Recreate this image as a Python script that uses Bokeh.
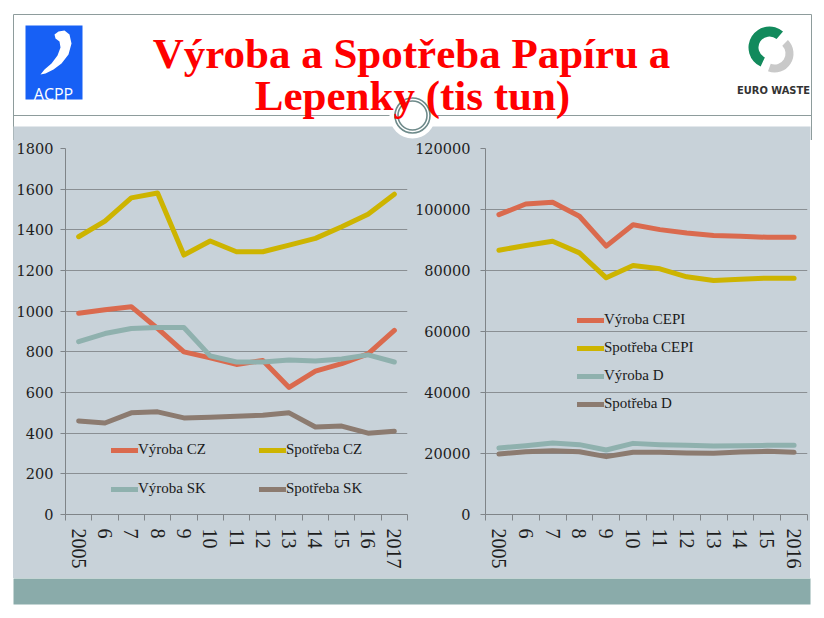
from bokeh.plotting import figure
from bokeh.layouts import column, row
from bokeh.models import (Range1d, FixedTicker, SingleIntervalTicker, Legend, LegendItem, Spacer,
                          BasicTickFormatter)
from bokeh.core.properties import value
from bokeh.embed import file_html
from bokeh.resources import INLINE

# ---------------- data ----------------
years_left = [2005, 2006, 2007, 2008, 2009, 2010, 2011, 2012, 2013, 2014, 2015, 2016, 2017]
labels_left = ["2005", "6", "7", "8", "9", "10", "11", "12", "13", "14", "15", "16", "2017"]
vyroba_cz = [990, 1007, 1022, 915, 800, 770, 738, 757, 625, 705, 742, 790, 905]
spotreba_cz = [1366, 1443, 1557, 1581, 1276, 1345, 1292, 1292, 1325, 1358, 1415, 1477, 1575]
vyroba_sk = [850, 890, 915, 920, 920, 780, 750, 750, 760, 755, 765, 785, 750]
spotreba_sk = [460, 450, 500, 505, 475, 478, 483, 488, 500, 430, 435, 400, 410]

years_right = [2005, 2006, 2007, 2008, 2009, 2010, 2011, 2012, 2013, 2014, 2015, 2016]
labels_right = ["2005", "6", "7", "8", "9", "10", "11", "12", "13", "14", "15", "2016"]
vyroba_cepi = [98300, 101800, 102350, 97800, 88000, 95000, 93400, 92300, 91450, 91230, 90900, 90900]
spotreba_cepi = [86650, 88180, 89600, 85770, 77600, 81650, 80550, 77930, 76750, 77170, 77500, 77500]
vyroba_d = [21800, 22560, 23440, 22900, 21150, 23320, 22900, 22670, 22450, 22560, 22670, 22670]
spotreba_d = [19830, 20600, 20930, 20600, 18970, 20380, 20380, 20160, 20050, 20490, 20710, 20380]

title_lines = ["Výroba a Spotřeba Papíru a", "Lepenky (tis tun)"]

# ---------------- style ----------------
BG = "#C8D2D9"
TEAL = "#8AABAA"
GRID = "#8A8F93"
C_RED = "#DA6A4E"
C_YEL = "#CDB400"
C_TEAL = "#8FB1AE"
C_BRN = "#8C7B70"
SERIF = "Liberation Serif"
NUMF = "DejaVu Serif"

# ---------------- title figure ----------------
t = figure(width=816, height=140, x_range=Range1d(0, 816), y_range=Range1d(140, 0),
           min_border=0, toolbar_location=None, output_backend="svg",
           x_axis_location=None, y_axis_location=None)
t.grid.visible = False
t.outline_line_color = None
t.background_fill_color = "white"
t.border_fill_color = "white"

BORDER = "#8E9C9C"
t.line(x=[13, 811], y=[14, 14], line_color=BORDER, line_width=1)
t.line(x=[13, 13], y=[14, 140], line_color=BORDER, line_width=1)
t.line(x=[811, 811], y=[14, 140], line_color=BORDER, line_width=1)
t.line(x=[13, 811], y=[115, 115], line_color=BORDER, line_width=1)
t.quad(left=[13], right=[810], top=[126], bottom=[141], fill_color=BG, line_color=None)
t.scatter(x=[412], y=[115], size=46, fill_color="white", line_color=None)
t.scatter(x=[412], y=[115], size=35, fill_color=None, line_color="#6E8A8A", line_width=1.6)
t.scatter(x=[412], y=[115], size=29, fill_color=None, line_color="#6E8A8A", line_width=1.6)

t.text(x=[411, 412], y=[53, 95], text=title_lines, text_font=value(SERIF),
       text_font_style="bold", text_font_size="43px", text_color="#FF0000",
       text_align="center", text_baseline="alphabetic")

# ACPP logo
t.quad(left=[25], right=[82], top=[25], bottom=[99], fill_color="#1760F5", line_color=None)
t.patch(x=[58, 64, 69, 71, 68, 61, 53, 45, 40, 44, 51, 57, 60, 59, 55, 54],
        y=[31, 30, 34, 43, 54, 63, 69, 73, 74, 69, 63, 55, 47, 41, 38, 34],
        fill_color="white", line_color=None)
t.text(x=[53], y=[93], text=["ACPP"], text_font=value("Open Sans"), text_font_size="16px",
       text_color="white", text_align="center", text_baseline="alphabetic")

# EURO WASTE logo
t.annular_wedge(x=[774], y=[53], inner_radius=11, outer_radius=19,
                start_angle=-110, end_angle=45, start_angle_units="deg", end_angle_units="deg",
                fill_color="#C9C9C9", line_color=None)
t.annular_wedge(x=[769], y=[47], inner_radius=11, outer_radius=21,
                start_angle=50, end_angle=245, start_angle_units="deg", end_angle_units="deg",
                fill_color="#128A5C", line_color=None)
t.text(x=[773], y=[90], text=["EURO WASTE"], text_font=value("DejaVu Sans Condensed"),
       text_font_style="bold", text_font_size="11px", text_color="#333333",
       text_align="center", text_baseline="alphabetic")


# ---------------- chart helper ----------------
def make_chart(width, years, labels, ymax, yint, mbl, mbt, mbb, standoff):
    p = figure(width=width, height=438, x_range=Range1d(years[0] - 0.5, years[-1] + 0.5),
               y_range=Range1d(0, ymax), toolbar_location=None, output_backend="svg",
               min_border_left=mbl, min_border_right=3, min_border_top=mbt, min_border_bottom=mbb)
    p.background_fill_color = BG
    p.border_fill_color = BG
    p.outline_line_color = None
    p.xgrid.visible = False
    p.ygrid.grid_line_color = GRID
    p.ygrid.grid_line_width = 1
    p.yaxis.ticker = SingleIntervalTicker(interval=yint)
    p.ygrid.ticker = SingleIntervalTicker(interval=yint)
    p.yaxis.formatter = BasicTickFormatter(use_scientific=False)
    p.xaxis.ticker = FixedTicker(ticks=years, minor_ticks=[y - 0.5 for y in years] + [years[-1] + 0.5])
    p.xaxis.major_label_overrides = {y: l for y, l in zip(years, labels)}
    p.xaxis.major_label_orientation = "vertical"
    for ax in (p.xaxis, p.yaxis):
        ax.axis_line_color = "#7F8488"
        ax.major_tick_line_color = "#7F8488"
        ax.minor_tick_line_color = "#7F8488"
        ax.major_tick_in = 0
        ax.minor_tick_in = 0
        ax.major_label_text_color = "#1E1E1E"
    p.xaxis.major_tick_line_color = None
    p.xaxis.major_tick_out = 6
    p.xaxis.minor_tick_out = 6
    p.xaxis.major_label_standoff = 8
    p.xaxis.major_label_text_font = SERIF
    p.xaxis.major_label_text_font_size = "20px"
    p.yaxis.minor_tick_line_color = None
    p.yaxis.major_tick_out = 5
    p.yaxis.major_label_standoff = standoff
    p.yaxis.major_label_text_font = NUMF
    p.yaxis.major_label_text_font_size = "14.5px"
    return p


def add_line(p, xs, ys, color):
    return p.line(x=xs, y=ys, line_color=color, line_width=5, line_cap="round", line_join="round")


def make_legend(items, loc, spacing=0):
    lg = Legend(items=items, location=loc, padding=0, margin=0, spacing=spacing,
                glyph_width=27, glyph_height=16, label_height=16, label_standoff=0,
                label_text_font=SERIF, label_text_font_size="15px", label_text_color="#1A1A1A",
                background_fill_alpha=0, border_line_color=None)
    return lg


# ---------------- left chart ----------------
pl = make_chart(397, years_left, labels_left, 1800, 200, 51, 8, 62, 7)
r1 = add_line(pl, years_left, vyroba_cz, C_RED)
r2 = add_line(pl, years_left, spotreba_cz, C_YEL)
r3 = add_line(pl, years_left, vyroba_sk, C_TEAL)
r4 = add_line(pl, years_left, spotreba_sk, C_BRN)
pl.add_layout(make_legend([LegendItem(label="Výroba CZ", renderers=[r1])], (46, 56)))
pl.add_layout(make_legend([LegendItem(label="Spotřeba CZ", renderers=[r2])], (194, 56)))
pl.add_layout(make_legend([LegendItem(label="Výroba SK", renderers=[r3])], (46, 17)))
pl.add_layout(make_legend([LegendItem(label="Spotřeba SK", renderers=[r4])], (194, 17)))

# ---------------- right chart ----------------
pr = make_chart(400, years_right, labels_right, 120000, 20000, 75, 7, 64, 10)
q1 = add_line(pr, years_right, vyroba_cepi, C_RED)
q2 = add_line(pr, years_right, spotreba_cepi, C_YEL)
q3 = add_line(pr, years_right, vyroba_d, C_TEAL)
q4 = add_line(pr, years_right, spotreba_d, C_BRN)
pr.add_layout(make_legend([LegendItem(label="Výroba CEPI", renderers=[q1]),
                           LegendItem(label="Spotřeba CEPI", renderers=[q2]),
                           LegendItem(label="Výroba D", renderers=[q3]),
                           LegendItem(label="Spotřeba D", renderers=[q4])], (92, 102), spacing=11))

# ---------------- bottom band ----------------
b = figure(width=816, height=34, x_range=Range1d(0, 816), y_range=Range1d(612, 578),
           min_border=0, toolbar_location=None, output_backend="svg",
           x_axis_location=None, y_axis_location=None)
b.grid.visible = False
b.outline_line_color = None
b.background_fill_color = "white"
b.border_fill_color = "white"
b.quad(left=[13], right=[810], top=[577], bottom=[604], fill_color=TEAL, line_color=None)

charts = row(Spacer(width=13, height=438, styles={"background-color": "white"}), pl, pr,
             Spacer(width=6, height=438, styles={"background-color": "white"}),
             styles={"background-color": BG})
layout = column(t, charts, b)

open("out.html", "w").write(file_html(layout, INLINE))
